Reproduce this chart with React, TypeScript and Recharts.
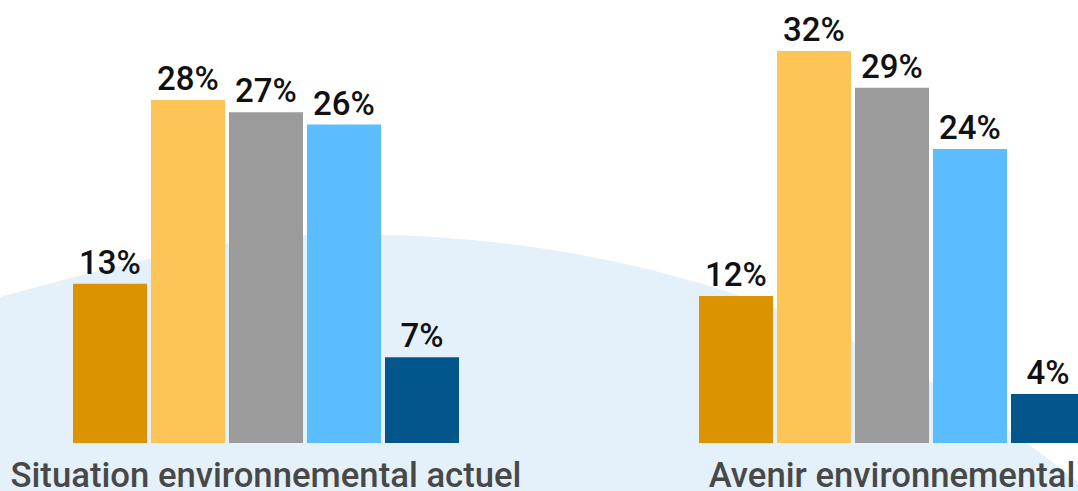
import React from "react";
import { BarChart, Bar, XAxis, YAxis, LabelList } from "recharts";

const categories = ["Situation environnemental actuel", "Avenir environnemental"];
const series1 = [13, 12];
const series2 = [28, 32];
const series3 = [27, 29];
const series4 = [26, 24];
const series5 = [7, 4];
const seriesKeys = ["s1", "s2", "s3", "s4", "s5"];
const seriesColors = ["#DB9400", "#FDC557", "#9B9B9B", "#5BBDFD", "#02568C"];

const data = categories.map((name, i) => ({
  name,
  s1: series1[i],
  s2: series2[i],
  s3: series3[i],
  s4: series4[i],
  s5: series5[i],
}));

const FONT = "Roboto, 'Noto Sans', sans-serif";

const CategoryTick = (props: any) => {
  const { x, y, payload } = props;
  return (
    <text
      x={x}
      y={y + 44}
      textAnchor="middle"
      fontFamily={FONT}
      fontSize={34.7}
      fontWeight={500}
      fill="#484848"
    >
      {payload.value}
    </text>
  );
};

export default function App() {
  return (
    <div
      style={{
        position: "fixed",
        left: 0,
        top: 0,
        width: 1078,
        height: 491,
        overflow: "hidden",
        background: "#FFFFFF",
      }}
    >
      <svg
        width={1078}
        height={491}
        style={{ position: "absolute", left: 0, top: 0 }}
      >
        <path
          d="M 0 297 C 113 266.5, 230 234, 340 234 C 640 234, 878 322, 1078 482 L 1078 491 L 0 491 Z"
          fill="#E4F1FB"
        />
      </svg>
      <div style={{ position: "absolute", left: -47, top: 0 }}>
        <BarChart
          width={1252}
          height={491}
          data={data}
          margin={{ top: 2, right: 0, bottom: 0, left: 0 }}
          barCategoryGap={120}
          barGap={4}
        >
          <XAxis
            dataKey="name"
            axisLine={false}
            tickLine={false}
            tickSize={0}
            tickMargin={0}
            height={48}
            interval={0}
            tick={<CategoryTick />}
          />
          <YAxis hide domain={[0, 36]} />
          {seriesKeys.map((k, i) => (
            <Bar
              key={k}
              dataKey={k}
              fill={seriesColors[i]}
              isAnimationActive={false}
            >
              <LabelList
                dataKey={k}
                position="top"
                offset={10}
                formatter={(v: any) => `${v}%`}
                fontFamily={FONT}
                fontSize={33}
                fontWeight={500}
                fill="#111111"
              />
            </Bar>
          ))}
        </BarChart>
      </div>
    </div>
  );
}
